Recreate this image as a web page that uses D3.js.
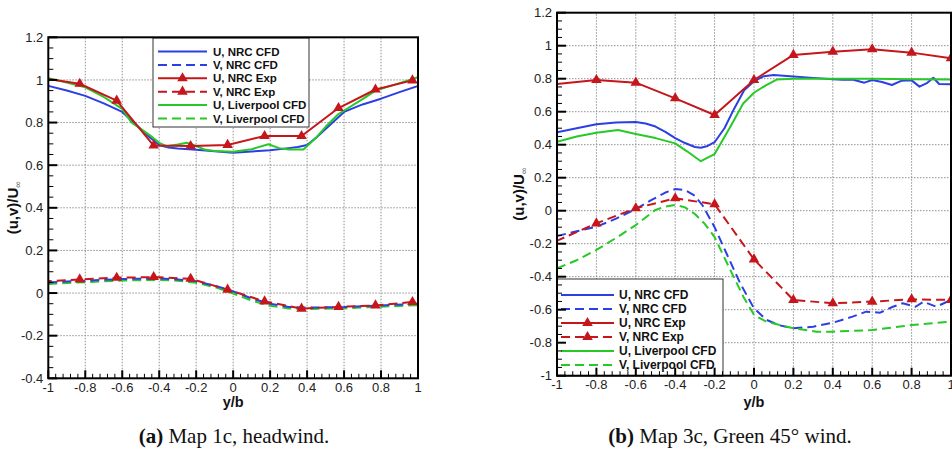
<!DOCTYPE html>
<html><head><meta charset="utf-8">
<script src="https://cdn.jsdelivr.net/npm/d3@7"></script>
<style>html,body{margin:0;padding:0;background:#fff;}svg{display:block;}</style>
</head><body>
<svg id="c" width="952" height="451"></svg>
<script>
// ---------- Panel (a): Map 1c, headwind ----------
const xA_nrcCFD = [-1,-0.9,-0.8,-0.7,-0.6,-0.55,-0.5,-0.45,-0.4,-0.35,-0.3,-0.2,-0.1,0,0.1,0.2,0.3,0.35,0.4,0.45,0.5,0.55,0.6,0.7,0.8,0.9,1];
const uA_nrcCFD = [0.972,0.95,0.925,0.89,0.85,0.81,0.77,0.73,0.695,0.683,0.678,0.672,0.665,0.658,0.664,0.670,0.68,0.685,0.695,0.73,0.77,0.81,0.85,0.885,0.912,0.943,0.972];
const xA_livCFD = [-1,-0.9,-0.8,-0.7,-0.6,-0.55,-0.5,-0.45,-0.4,-0.36,-0.3,-0.25,-0.2,-0.15,-0.1,0,0.1,0.19,0.25,0.3,0.38,0.45,0.5,0.57,0.7,0.77,0.9,1];
const uA_livCFD = [1.008,0.988,0.965,0.92,0.864,0.80,0.77,0.74,0.705,0.689,0.697,0.705,0.69,0.672,0.666,0.663,0.675,0.698,0.68,0.674,0.674,0.73,0.78,0.84,0.91,0.95,0.985,1.013];
const xA_exp = [-1.03,-0.83,-0.63,-0.43,-0.23,-0.03,0.17,0.37,0.57,0.77,0.97];
const uA_exp = [1.008,0.982,0.903,0.692,0.69,0.695,0.737,0.737,0.868,0.955,0.998];
const vA_exp = [0.054,0.064,0.072,0.075,0.067,0.016,-0.039,-0.073,-0.065,-0.058,-0.042];
const xA_v = [-1,-0.8,-0.6,-0.4,-0.3,-0.2,-0.1,0,0.1,0.2,0.3,0.4,0.6,0.8,1];
const vA_nrcCFD = [0.05,0.058,0.066,0.068,0.064,0.055,0.035,0.008,-0.025,-0.05,-0.065,-0.068,-0.066,-0.058,-0.05];
const vA_livCFD = [0.043,0.051,0.059,0.062,0.058,0.048,0.028,-0.002,-0.035,-0.06,-0.072,-0.075,-0.072,-0.064,-0.057];

// ---------- Panel (b): Map 3c, Green 45 deg wind ----------
const xB_nrcU = [-1,-0.9,-0.8,-0.7,-0.6,-0.55,-0.5,-0.45,-0.4,-0.35,-0.3,-0.27,-0.24,-0.2,-0.15,-0.1,-0.05,0,0.05,0.1,0.2,0.3,0.4,0.45,0.5,0.56,0.6,0.65,0.7,0.75,0.8,0.84,0.88,0.91,0.94,1];
const uB_nrcU = [0.475,0.50,0.524,0.535,0.537,0.528,0.51,0.478,0.44,0.41,0.386,0.382,0.39,0.415,0.5,0.62,0.73,0.785,0.815,0.822,0.814,0.805,0.797,0.793,0.795,0.776,0.792,0.78,0.762,0.788,0.79,0.752,0.775,0.806,0.768,0.766];
const xB_livU = [-1,-0.9,-0.8,-0.69,-0.6,-0.5,-0.4,-0.34,-0.27,-0.2,-0.12,-0.055,0,0.06,0.115,0.2,0.4,0.6,0.8,1];
const uB_livU = [0.418,0.45,0.473,0.489,0.465,0.44,0.408,0.36,0.30,0.343,0.509,0.65,0.715,0.76,0.795,0.80,0.80,0.80,0.797,0.795];
const xB_exp = [-1.2,-0.8,-0.6,-0.4,-0.2,0,0.2,0.4,0.6,0.8,1];
const uB_exp = [0.745,0.792,0.776,0.681,0.58,0.792,0.944,0.964,0.978,0.958,0.924];
const vB_exp = [-0.287,-0.077,0.015,0.075,0.039,-0.295,-0.541,-0.561,-0.551,-0.537,-0.541];
const xB_nrcV = [-1,-0.9,-0.8,-0.7,-0.6,-0.52,-0.45,-0.4,-0.35,-0.3,-0.26,-0.2,-0.14,-0.07,0,0.064,0.13,0.2,0.3,0.4,0.5,0.57,0.64,0.705,0.755,0.82,0.86,0.925,1];
const vB_nrcV = [-0.153,-0.125,-0.097,-0.048,0.01,0.065,0.11,0.131,0.125,0.09,0.03,-0.1,-0.258,-0.44,-0.592,-0.662,-0.695,-0.713,-0.703,-0.679,-0.642,-0.612,-0.618,-0.582,-0.561,-0.582,-0.552,-0.582,-0.541];
const xB_livV = [-1,-0.9,-0.8,-0.7,-0.6,-0.5,-0.45,-0.4,-0.35,-0.3,-0.25,-0.2,-0.12,-0.054,0,0.064,0.2,0.317,0.4,0.6,0.8,1];
const vB_livV = [-0.349,-0.3,-0.238,-0.165,-0.087,0.005,0.025,0.035,0.02,-0.02,-0.08,-0.16,-0.36,-0.521,-0.632,-0.673,-0.713,-0.733,-0.733,-0.723,-0.693,-0.673];

// ---------- Ticks and labels ----------
const xTicks = [-1,-0.8,-0.6,-0.4,-0.2,0,0.2,0.4,0.6,0.8,1];
const yTicksA = [-0.4,-0.2,0,0.2,0.4,0.6,0.8,1,1.2];
const yTicksB = [-1,-0.8,-0.6,-0.4,-0.2,0,0.2,0.4,0.6,0.8,1,1.2];
const legendLabels = ["U, NRC CFD","V, NRC CFD","U, NRC Exp","V, NRC Exp","U, Liverpool CFD","V, Liverpool CFD"];
const captionA = ["(a)", " Map 1c, headwind."];
const captionB = ["(b)", " Map 3c, Green 45\u00b0 wind."];

const BLUE = "#2b3fe3", RED = "#c5161c", GREEN = "#27c927";
const DASH = "9,5";
const svg = d3.select("#c");
const fmt = v => String(+v.toFixed(2));

function panel(cfg, id) {
  const x = d3.scaleLinear().domain([-1,1]).range(cfg.xr);
  const y = d3.scaleLinear().domain(cfg.yd).range(cfg.yr);
  const g = svg.append("g");
  const [x0,x1] = cfg.xr, [yb,yt] = cfg.yr;
  g.append("clipPath").attr("id","clip"+id).append("rect")
    .attr("x",x0).attr("y",yt).attr("width",x1-x0).attr("height",yb-yt);
  // grid
  g.selectAll(".gx").data(xTicks.slice(1,-1)).join("line")
    .attr("x1",d=>x(d)).attr("x2",d=>x(d)).attr("y1",yb).attr("y2",yt)
    .attr("stroke","#8f8f8f").attr("stroke-width",1).attr("stroke-dasharray","1.5,1.5");
  g.selectAll(".gy").data(cfg.yt.slice(1,-1)).join("line")
    .attr("y1",d=>y(d)).attr("y2",d=>y(d)).attr("x1",x0).attr("x2",x1)
    .attr("stroke","#8f8f8f").attr("stroke-width",1).attr("stroke-dasharray","1.5,1.5");
  const pg = g.append("g").attr("clip-path",`url(#clip${id})`);
  const line = d3.line().x(d=>x(d[0])).y(d=>y(d[1]));
  cfg.series.forEach(s => {
    const pts = s.x.map((xv,i)=>[xv,s.y[i]]);
    pg.append("path").attr("d",line(pts)).attr("fill","none")
      .attr("stroke",s.c).attr("stroke-width",2)
      .attr("stroke-dasharray",s.dash?DASH:null).attr("stroke-linejoin","round");
    if (s.m) {
      pg.selectAll(null).data(pts).join("path")
        .attr("transform",d=>`translate(${x(d[0])},${y(d[1])})`)
        .attr("d",d3.symbol(d3.symbolTriangle,48)()).attr("fill",RED);
    }
  });
  // legend
  const L = cfg.leg;
  g.append("rect").attr("x",L.x).attr("y",L.y).attr("width",L.w).attr("height",L.h)
    .attr("fill","#fff").attr("stroke","#333").attr("stroke-width",1);
  const legSeries = [
    {c:BLUE,dash:false,m:false},{c:BLUE,dash:true,m:false},
    {c:RED,dash:false,m:true},{c:RED,dash:true,m:true},
    {c:GREEN,dash:false,m:false},{c:GREEN,dash:true,m:false}];
  legSeries.forEach((s,i)=>{
    const yy = L.r0 + i*L.dr;
    g.append("line").attr("x1",L.l0).attr("x2",L.l1).attr("y1",yy).attr("y2",yy)
      .attr("stroke",s.c).attr("stroke-width",2).attr("stroke-dasharray",s.dash?DASH:null);
    if (s.m) g.append("path").attr("transform",`translate(${(L.l0+L.l1)/2},${yy})`)
      .attr("d",d3.symbol(d3.symbolTriangle,48)()).attr("fill",RED);
    g.append("text").attr("x",L.tx).attr("y",yy).attr("dy","0.36em")
      .attr("font-family","Liberation Sans, Arial, sans-serif").attr("font-weight","bold")
      .attr("font-size",L.fs).attr("fill","#111").text(legendLabels[i]);
  });
  // minor/major ticks
  const xMinor = d3.range(-1,1.0001,0.04).filter(v=>Math.abs(Math.round(v*5)-v*5)>1e-6);
  g.selectAll(null).data(xMinor).join("line")
    .attr("x1",d=>x(d)).attr("x2",d=>x(d)).attr("y1",yb).attr("y2",yb-4.5)
    .attr("stroke","#000").attr("stroke-width",1);
  g.selectAll(null).data(xTicks).join("line")
    .attr("x1",d=>x(d)).attr("x2",d=>x(d)).attr("y1",yb).attr("y2",yb-8)
    .attr("stroke","#000").attr("stroke-width",2);
  const yMinor = d3.range(cfg.yd[0],cfg.yd[1]+0.0001,0.05).filter(v=>Math.abs(Math.round(v*5)-v*5)>1e-6);
  g.selectAll(null).data(yMinor).join("line")
    .attr("y1",d=>y(d)).attr("y2",d=>y(d)).attr("x1",x0).attr("x2",x0+5)
    .attr("stroke","#000").attr("stroke-width",1);
  g.selectAll(null).data(cfg.yt).join("line")
    .attr("y1",d=>y(d)).attr("y2",d=>y(d)).attr("x1",x0).attr("x2",x0+9)
    .attr("stroke","#000").attr("stroke-width",2);
  // border
  g.append("rect").attr("x",x0).attr("y",yt).attr("width",x1-x0).attr("height",yb-yt)
    .attr("fill","none").attr("stroke","#000").attr("stroke-width",2);
  // tick labels
  const tf = "Liberation Sans, Arial, sans-serif";
  g.selectAll(null).data(xTicks).join("text")
    .attr("x",d=>x(d)).attr("y",yb+13.5).attr("text-anchor","middle")
    .attr("font-family",tf).attr("font-size",13).attr("fill","#222").text(fmt);
  g.selectAll(null).data(cfg.yt).join("text")
    .attr("x",x0-5).attr("y",d=>y(d)).attr("dy","0.36em").attr("text-anchor","end")
    .attr("font-family",tf).attr("font-size",13).attr("fill","#222").text(fmt);
  // axis titles
  g.append("text").attr("x",x(0)).attr("y",406.5).attr("text-anchor","middle")
    .attr("font-family",tf).attr("font-weight","bold").attr("font-size",14.5).attr("fill","#111").text("y/b");
  const yl = g.append("text").attr("transform",`translate(${cfg.ylx},${(yt+yb)/2}) rotate(-90)`)
    .attr("text-anchor","middle").attr("font-family",tf).attr("font-weight","bold")
    .attr("font-size",15).attr("fill","#111");
  yl.append("tspan").text("(u,v)/U");
  yl.append("tspan").attr("font-size",9).attr("font-weight","normal").attr("dy",3).attr("fill","#555").text("\u221e");
  // caption
  const cap = g.append("text").attr("x",cfg.capx).attr("y",443).attr("text-anchor","middle")
    .attr("font-family","Liberation Serif, Times New Roman, serif").attr("font-size",21).attr("fill","#111");
  cap.append("tspan").attr("font-weight","bold").text(cfg.cap[0]);
  cap.append("tspan").text(cfg.cap[1]);
}

panel({
  xr:[48.3,418], yd:[-0.4,1.2], yr:[378.3,37.3], yt:yTicksA, ylx:18, capx:234, cap:captionA,
  leg:{x:153,y:38,w:156,h:89,r0:51.5,dr:13.4,l0:158,l1:207,tx:213,fs:11.5},
  series:[
    {x:xA_nrcCFD,y:uA_nrcCFD,c:BLUE},
    {x:xA_v,y:vA_livCFD,c:GREEN,dash:true},
    {x:xA_v,y:vA_nrcCFD,c:BLUE,dash:true},
    {x:xA_exp,y:vA_exp,c:RED,dash:true,m:true},
    {x:xA_livCFD,y:uA_livCFD,c:GREEN},
    {x:xA_exp,y:uA_exp,c:RED,m:true}
  ]
},"A");

panel({
  xr:[557,951], yd:[-1,1.2], yr:[375.7,12.7], yt:yTicksB, ylx:524, capx:730, cap:captionB,
  leg:{x:557,y:279,w:166,h:97,r0:295,dr:14,l0:561,l1:614,tx:619,fs:12},
  series:[
    {x:xB_nrcU,y:uB_nrcU,c:BLUE},
    {x:xB_livU,y:uB_livU,c:GREEN},
    {x:xB_nrcV,y:vB_nrcV,c:BLUE,dash:true},
    {x:xB_livV,y:vB_livV,c:GREEN,dash:true},
    {x:xB_exp,y:vB_exp,c:RED,dash:true,m:true},
    {x:xB_exp,y:uB_exp,c:RED,m:true}
  ]
},"B");
</script>
</body></html>
